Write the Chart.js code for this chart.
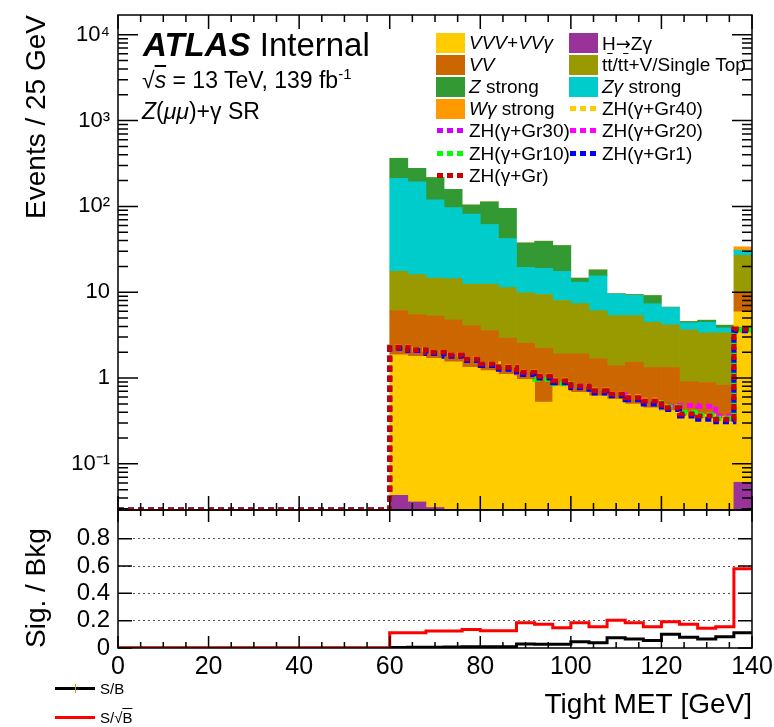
<!DOCTYPE html>
<html><head><meta charset="utf-8">
<script src="https://cdn.jsdelivr.net/npm/chart.js@4/dist/chart.umd.min.js"></script>
<style>
html,body{margin:0;padding:0;background:#fff;}
body{width:774px;height:727px;position:relative;overflow:hidden;font-family:'Liberation Sans',Arial,sans-serif;color:#000;}
canvas{position:absolute;left:0;}
#c1{top:0;}
#c2{top:500px;}
.t{position:absolute;white-space:nowrap;line-height:1;}
.lg{position:absolute;height:20px;line-height:20px;font-size:19px;white-space:nowrap;}
.box{position:absolute;width:29px;height:20px;}
.dash{position:absolute;width:6px;height:5px;top:7px;}
.ol{text-decoration:overline;}
.dv{font-family:'Noto Sans','DejaVu Sans',sans-serif;font-size:18px;}
</style></head><body>
<canvas id="c1" width="774" height="520"></canvas>
<canvas id="c2" width="774" height="227"></canvas>

<div class="t" style="left:143px;top:28px;font-size:33px;"><b><i>ATLAS</i></b> Internal</div>
<div class="t" style="left:142px;top:66px;font-size:23px;">√<i class="ol">s</i> = 13 TeV, 139 fb<sup style="font-size:15px;">-1</sup></div>
<div class="t" style="left:142px;top:100px;font-size:23px;"><i>Z</i>(<i>μμ</i>)+γ SR</div>
<div id="legend"></div>

<div style="position:absolute;left:55px;top:687px;width:40px;height:3px;background:#000;"></div>
<div style="position:absolute;left:75px;top:684px;width:1px;height:9px;background:#cc9900;"></div>
<div class="t" style="left:100px;top:681px;font-size:15px;">S/B</div>
<div style="position:absolute;left:55px;top:716px;width:40px;height:3px;background:#ff0000;"></div>
<div class="t" style="left:100px;top:710px;font-size:15px;">S/√<span class="ol">B</span></div>

<script>
// ---------------- data ----------------
const binEdges = [0,4,8,12,16,20,24,28,32,36,40,44,48,52,56,60,64,68,72,76,80,84,88,92,96,100,104,108,112,116,120,124,128,132,136,140];
const nEmptyBins = 15; // bins from 0 to 60 GeV hold no events

// backgrounds (bins 60-64 ... 136-140)
const hToZg    = [0.043,0.036,0.031,0.026,0.022,0.020,0.018,0.016,0.014,0.013,0.012,0.011,0.010,0.009,0.009,0.008,0.007,0.007,0.006,0.061];
const vvvVVg   = [1.82,1.75,1.67,1.52,1.31,1.20,1.09,0.95,0.51,0.80,0.67,0.61,0.56,0.49,0.44,0.41,0.39,0.37,0.35,5.84];
const vv       = [4.26,3.67,3.57,3.21,2.76,2.35,1.80,1.58,1.70,1.10,1.23,1.05,0.82,1.03,0.88,0.91,0.51,0.51,0.47,4.10];
const ttbar    = [11.4,10.6,9.33,9.64,8.31,8.83,8.39,7.31,7.18,6.09,5.44,4.43,3.96,3.82,3.15,2.84,2.73,2.47,2.53,16.9];
const zgStrong = [194.5,177.9,104.4,82.2,68.9,49.1,30.9,9.6,9.6,9.5,5.75,9.4,4.2,3.85,2.87,2.48,0.76,1.11,0.48,3.9];
const zStrong  = [152,84,98,61.4,22.7,51.5,52.8,18.1,20.3,17.5,1.5,2.7,0.05,0.2,1.8,0.05,0.16,0.25,0.29,0.01];
const wgStrong = [0.01,0.01,0.01,0.01,0.01,0.01,0.01,0.01,0.01,0.01,0.01,0.01,0.01,0.01,0.01,0.01,0.01,0.01,0.01,3.0];

// signals (bins 60-64 ... 136-140)
const zhGr40 = [2.30,2.15,2.00,1.87,1.68,1.47,1.34,1.18,1.06,0.94,0.82,0.72,0.66,0.60,0.55,0.46,0.39,0.37,0.34,3.76];
const zhGr30 = [2.26,2.11,1.98,1.84,1.65,1.45,1.32,1.16,1.03,0.91,0.80,0.70,0.64,0.58,0.53,0.45,0.39,0.37,0.34,3.68];
const zhGr20 = [2.24,2.08,1.95,1.82,1.62,1.43,1.31,1.15,1.02,0.90,0.80,0.70,0.64,0.58,0.53,0.47,0.48,0.47,0.36,3.60];
const zhGr10 = [2.25,2.12,1.97,1.83,1.64,1.44,1.30,1.13,0.97,0.86,0.78,0.70,0.63,0.57,0.52,0.46,0.40,0.37,0.34,3.65];
const zhGr1  = [2.22,2.10,1.93,1.80,1.60,1.40,1.27,1.10,1.00,0.88,0.77,0.67,0.62,0.56,0.50,0.43,0.36,0.33,0.31,3.55];
const zhGr   = [2.28,2.14,2.00,1.86,1.67,1.46,1.33,1.17,1.05,0.93,0.81,0.71,0.65,0.59,0.54,0.45,0.38,0.36,0.33,3.74];

// ratio panel (bins 60-64 ... 136-140)
const sOverB     = [0.004,0.005,0.006,0.008,0.010,0.009,0.010,0.030,0.028,0.027,0.046,0.038,0.075,0.066,0.055,0.100,0.078,0.066,0.083,0.112];
const sOverSqrtB = [0.112,0.112,0.124,0.124,0.136,0.126,0.126,0.185,0.173,0.148,0.185,0.155,0.204,0.185,0.155,0.192,0.173,0.144,0.155,0.580];

// axes
const yTickValues = [0.1,1,10,100,1000,10000];
const yTickLabels = ['10⁻¹','1','10','10²','10³','10⁴'];
const ratioTickValues = [0,0.2,0.4,0.6,0.8];
const ratioTickLabels = ['0','0.2','0.4','0.6','0.8'];
const xTickValues = [0,20,40,60,80,100,120,140];
const xTickLabels = ['0','20','40','60','80','100','120','140'];

const Y_MIN = 0.029, Y_MAX = 17000, R_MAX = 1.01;

// ---------------- helpers ----------------
Chart.defaults.font.family = "'Liberation Sans', Arial, sans-serif";
Chart.defaults.color = '#000';
const binWidth = binEdges[1] - binEdges[0];
const filledLow = binEdges.slice(nEmptyBins, binEdges.length - 1);
const barPoints = vals => vals.map((v, i) => ({x: filledLow[i] + binWidth / 2, y: v}));
const stepPoints = (vals, floor) => {
  const full = new Array(nEmptyBins).fill(0).concat(vals);
  return binEdges.map((e, i) => ({x: e, y: Math.max(full[Math.min(i, full.length - 1)], floor)}));
};
const noPad = s => { s.paddingTop = 0; s.paddingBottom = 0; s.paddingLeft = 0; s.paddingRight = 0; };

function insideTicks(xt, yt) {
  return {
    id: 'insideTicks',
    afterDatasetsDraw(chart) {
      const {ctx, chartArea: a, scales: {x, y}} = chart;
      ctx.save();
      ctx.strokeStyle = '#000';
      ctx.lineWidth = 1.5;
      ctx.beginPath();
      for (const [v, len] of xt) {
        const px = x.getPixelForValue(v);
        ctx.moveTo(px, a.bottom); ctx.lineTo(px, a.bottom - len);
        ctx.moveTo(px, a.top); ctx.lineTo(px, a.top + len);
      }
      for (const [v, len] of yt) {
        const py = y.getPixelForValue(v);
        ctx.moveTo(a.left, py); ctx.lineTo(a.left + len, py);
        ctx.moveTo(a.right, py); ctx.lineTo(a.right - len, py);
      }
      ctx.stroke();
      ctx.lineWidth = 1.5;
      ctx.strokeRect(a.left, a.top, a.right - a.left, a.bottom - a.top);
      ctx.restore();
    }
  };
}
function xTickMarks(maj, min) {
  const out = [];
  for (let v = 0; v <= 140; v += 5) out.push([v, v % 20 === 0 ? maj : min]);
  return out;
}
const logTicks = [];
for (let e = -2; e <= 4; e++) {
  for (let m = 1; m <= 9; m++) {
    const v = m * Math.pow(10, e);
    if (v >= Y_MIN && v <= Y_MAX) logTicks.push([v, m === 1 ? 20 : 10]);
  }
}

// ---------------- main panel ----------------
const stackDefs = [
  ['H→Zγ', hToZg, '#993399'],
  ['VVV+VVγ', vvvVVg, '#ffcc00'],
  ['VV', vv, '#cc6600'],
  ['tt̄/tt̄+V/Single Top', ttbar, '#999900'],
  ['Zγ strong', zgStrong, '#00cccc'],
  ['Z strong', zStrong, '#339933'],
  ['Wγ strong', wgStrong, '#ff9900'],
];
const sigDefs = [
  ['ZH(γ+Gr40)', zhGr40, '#ffcc00', 5],
  ['ZH(γ+Gr30)', zhGr30, '#cc00ff', 4],
  ['ZH(γ+Gr20)', zhGr20, '#ff00ff', 3],
  ['ZH(γ+Gr10)', zhGr10, '#00ff00', 2],
  ['ZH(γ+Gr1)', zhGr1, '#0000ff', 1],
  ['ZH(γ+Gr)', zhGr, '#cc0000', 0],
];
const datasets = [];
stackDefs.forEach(([label, vals, color]) => datasets.push({
  type: 'bar', label, data: barPoints(vals), backgroundColor: color, borderWidth: 0,
  barPercentage: 1, categoryPercentage: 1, stack: 'bkg', order: 10
}));
sigDefs.forEach(([label, vals, color, ord], k) => datasets.push({
  type: 'line', label, data: stepPoints(vals, Y_MIN), borderColor: color, borderWidth: 5,
  borderDash: [6, 4], borderCapStyle: 'butt', stepped: 'before', pointRadius: 0, fill: false,
  stack: 'sig' + k, order: ord
}));

new Chart(document.getElementById('c1'), {
  type: 'bar',
  data: {datasets},
  options: {
    responsive: false, animation: false, events: [],
    layout: {padding: {top: 15, right: 22, bottom: 10, left: 0}},
    plugins: {legend: {display: false}, tooltip: {enabled: false}},
    scales: {
      x: {type: 'linear', min: 0, max: 140, offset: false, display: false, grid: {offset: false},
          afterFit: noPad},
      y: {
        type: 'logarithmic', min: Y_MIN, max: Y_MAX, stacked: true,
        grid: {display: false, drawTicks: false}, border: {display: false},
        afterBuildTicks: s => { s.ticks = yTickValues.map(v => ({value: v})); },
        afterFit: s => { s.width = 118; noPad(s); },
        ticks: {autoSkip: false, padding: 8, font: {size: 22}, callback: (v, i) => yTickLabels[i]},
        title: {display: true, text: 'Events / 25 GeV', align: 'end', font: {size: 28}, padding: {top: 20, bottom: 0}}
      }
    }
  },
  plugins: [insideTicks(xTickMarks(14, 7), logTicks)]
});

// ---------------- ratio panel ----------------
const ratioTicks = [];
for (const v of ratioTickValues) ratioTicks.push([v, 14]);
new Chart(document.getElementById('c2'), {
  type: 'line',
  data: {datasets: [
    {label: 'S/√B', data: stepPoints(sOverSqrtB, 0), borderColor: '#ff0000', borderWidth: 3, stepped: 'before', pointRadius: 0, fill: false, order: 0},
    {label: 'S/B', data: stepPoints(sOverB, 0), borderColor: '#000000', borderWidth: 3, stepped: 'before', pointRadius: 0, fill: false, order: 1},
  ]},
  options: {
    responsive: false, animation: false, events: [],
    layout: {padding: {top: 10, right: 22, bottom: 0, left: 0}},
    plugins: {legend: {display: false}, tooltip: {enabled: false}},
    scales: {
      x: {
        type: 'linear', min: 0, max: 140, offset: false,
        grid: {display: false, drawTicks: false}, border: {display: false},
        afterBuildTicks: s => { s.ticks = xTickValues.map(v => ({value: v})); },
        afterFit: s => { s.height = 79; noPad(s); },
        ticks: {autoSkip: false, maxRotation: 0, padding: 4, font: {size: 25}, callback: (v, i) => xTickLabels[i]},
        title: {display: true, text: 'Tight MET [GeV]', align: 'end', font: {size: 28}, padding: {top: 0, bottom: 5}}
      },
      y: {
        type: 'linear', min: 0, max: R_MAX,
        grid: {drawTicks: false, lineWidth: 1, color: c => c.tick && c.tick.value === 0 ? 'rgba(0,0,0,0)' : '#555'},
        border: {display: false, dash: [2, 3]},
        afterBuildTicks: s => { s.ticks = ratioTickValues.map(v => ({value: v})); },
        afterFit: s => { s.width = 118; noPad(s); },
        ticks: {autoSkip: false, padding: 8, font: {size: 24}, callback: (v, i) => ratioTickLabels[i]},
        title: {display: true, text: 'Sig. / Bkg', align: 'start', font: {size: 28}, padding: {top: 20, bottom: 0}}
      }
    }
  },
  plugins: [insideTicks(xTickMarks(12, 6), ratioTicks)]
});

// ---------------- legend (HTML) ----------------
const legendItems = [
  {html: '<i>VVV</i>+<i>VVγ</i>', color: '#ffcc00', kind: 'box'},
  {html: 'H<span class="dv">→</span>Zγ', color: '#993399', kind: 'box'},
  {html: '<i>VV</i>', color: '#cc6600', kind: 'box'},
  {html: 't<span class="ol">t</span>/t<span class="ol">t</span>+V/Single Top', color: '#999900', kind: 'box'},
  {html: '<i>Z</i> strong', color: '#339933', kind: 'box'},
  {html: '<i>Zγ</i> strong', color: '#00cccc', kind: 'box'},
  {html: '<i>Wγ</i> strong', color: '#ff9900', kind: 'box'},
  {html: 'ZH(γ+Gr40)', color: '#ffcc00', kind: 'dash'},
  {html: 'ZH(γ+Gr30)', color: '#cc00ff', kind: 'dash'},
  {html: 'ZH(γ+Gr20)', color: '#ff00ff', kind: 'dash'},
  {html: 'ZH(γ+Gr10)', color: '#00ff00', kind: 'dash'},
  {html: 'ZH(γ+Gr1)', color: '#0000ff', kind: 'dash'},
  {html: 'ZH(γ+Gr)', color: '#cc0000', kind: 'dash'},
];
const colX = [436, 569];
const legend = document.getElementById('legend');
legendItems.forEach((it, k) => {
  const col = k % 2, row = Math.floor(k / 2);
  const cy = 42.5 + 22.2 * row;
  const x = colX[col];
  const d = document.createElement('div');
  d.style.cssText = `position:absolute;left:${x}px;top:${cy - 10}px;height:20px;`;
  let mark = '';
  if (it.kind === 'box') {
    mark = `<div class="box" style="left:0;top:0;background:${it.color};"></div>`;
  } else {
    mark = [1, 11, 21].map(o => `<div class="dash" style="left:${o}px;background:${it.color};"></div>`).join('');
  }
  d.innerHTML = mark + `<div class="lg" style="left:33px;top:0;">${it.html}</div>`;
  legend.appendChild(d);
});
</script>
</body></html>
